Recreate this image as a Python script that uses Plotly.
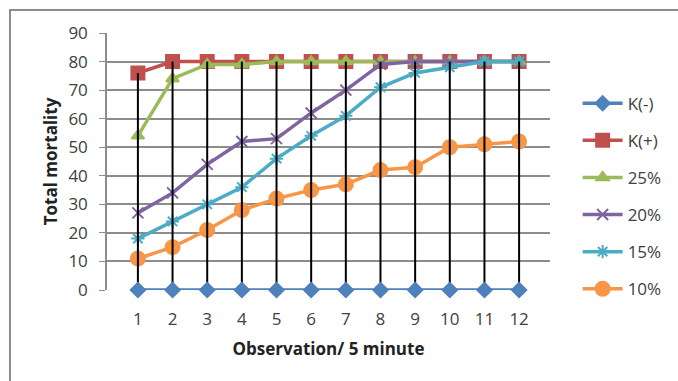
import plotly.graph_objects as go

categories = [str(i) for i in range(1, 13)]
k_minus = [0, 0, 0, 0, 0, 0, 0, 0, 0, 0, 0, 0]
k_plus = [76, 80, 80, 80, 80, 80, 80, 80, 80, 80, 80, 80]
p25 = [54, 74, 79, 79, 80, 80, 80, 80, 80, 80, 80, 80]
p20 = [27, 34, 44, 52, 53, 62, 70, 79, 80, 80, 80, 80]
p15 = [18, 24, 30, 36, 46, 54, 61, 71, 76, 78, 80, 80]
p10 = [11, 15, 21, 28, 32, 35, 37, 42, 43, 50, 51, 52]
y_ticks = [0, 10, 20, 30, 40, 50, 60, 70, 80, 90]

series = [
    ("K(-)", k_minus, "#4F81BD", "diamond", 11),
    ("K(+)", k_plus, "#C0504D", "square", 13),
    ("25%", p25, "#9BBB59", "triangle-up", 11),
    ("20%", p20, "#8064A2", "x-thin", 11),
    ("15%", p15, "#4BACC6", "asterisk", 11),
    ("10%", p10, "#F79646", "circle", 14),
]


def make_trace(rank, name, vals, color, sym, size):
    return go.Scatter(
        x=categories, y=vals, name=name, mode="lines+markers",
        legendgroup=name, legendrank=rank, cliponaxis=False,
        line=dict(color=color, width=3.5),
        marker=dict(symbol=sym, size=size, color=color,
                    line=dict(color=color, width=2)),
    )


fig = go.Figure()
for i, s in enumerate(series[1:], start=2):
    fig.add_trace(make_trace(i, *s))

# drop lines from highest point to category axis
tops = [max(v) for v in zip(k_minus, k_plus, p25, p20, p15, p10)]
dx, dy = [], []
for c, t in zip(categories, tops):
    dx += [c, c, None]
    dy += [0, t, None]
fig.add_trace(go.Scatter(x=dx, y=dy, mode="lines", showlegend=False,
                         line=dict(color="black", width=2), hoverinfo="skip"))

fig.add_trace(make_trace(1, *series[0]))

font = "'Open Sans', sans-serif"
fig.update_layout(
    width=678, height=381,
    margin=dict(l=106.5, r=126.5, t=33, b=91),
    paper_bgcolor="white", plot_bgcolor="white",
    font=dict(family=font, size=17, color="#404040"),
    showlegend=True,
    legend=dict(x=1.06, y=0.795, xanchor="left", yanchor="top",
                font=dict(size=17, color="#404040"),
                tracegroupgap=12, itemwidth=40, bgcolor="rgba(0,0,0,0)"),
    xaxis=dict(type="category", showgrid=False, zeroline=False,
               showline=False, ticks="", tickfont=dict(size=17),
               ticklabelstandoff=17,
               title=dict(text="<b>Observation/ 5 minute</b>",
                          font=dict(size=17, color="#222"), standoff=14)),
    yaxis=dict(range=[0, 90], tickvals=y_ticks, showgrid=True,
               gridcolor="#8C8C8C", gridwidth=1.5, zeroline=False,
               showline=True, linecolor="#8C8C8C", linewidth=1.5,
               ticks="outside", ticklen=6, tickcolor="#8C8C8C",
               tickfont=dict(size=17), ticklabelstandoff=8,
               title=dict(text="<b>Total mortality</b>",
                          font=dict(size=17, color="#222"), standoff=6)),
    shapes=[dict(type="rect", xref="paper", yref="paper",
                 x0=-0.219, x1=1.3, y0=-0.4, y1=1.0895,
                 line=dict(color="#8C8C8C", width=2), layer="below")],
)

fig.write_html("out.html")
